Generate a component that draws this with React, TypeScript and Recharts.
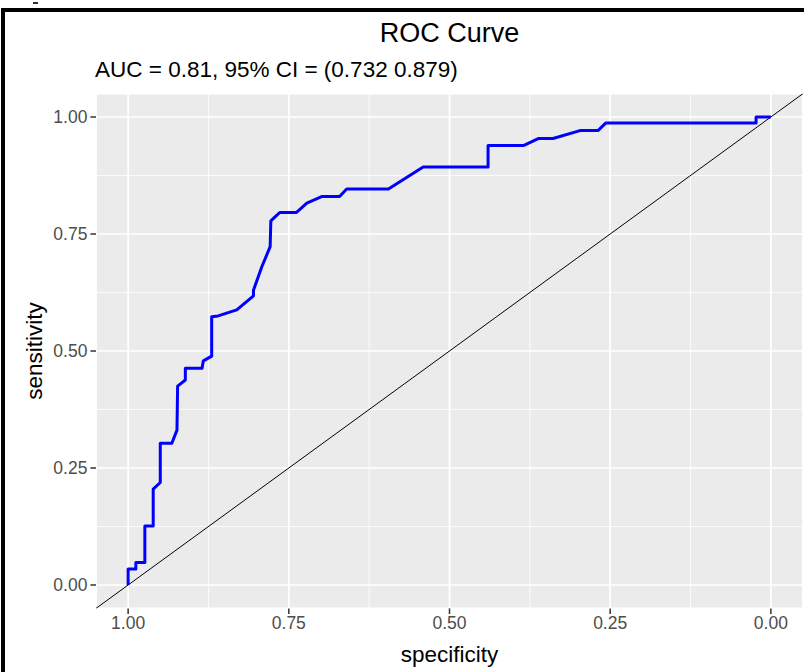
import React from "react";
import { LineChart, Line, XAxis, YAxis, CartesianGrid, ReferenceLine } from "recharts";

const specificity = [
  1.0, 1.0, 0.988, 0.988, 0.974, 0.974, 0.961, 0.961, 0.95, 0.95, 0.932, 0.924, 0.923, 0.911,
  0.911, 0.885, 0.883, 0.87, 0.87, 0.86, 0.831, 0.805, 0.805, 0.792, 0.779, 0.778, 0.771, 0.764,
  0.738, 0.722, 0.699, 0.671, 0.66, 0.595, 0.541, 0.44, 0.44, 0.385, 0.362, 0.339, 0.297, 0.269,
  0.257, 0.023, 0.023, 0.0,
];
const sensitivity = [
  0.0, 0.034, 0.034, 0.048, 0.048, 0.126, 0.126, 0.205, 0.219, 0.303, 0.303, 0.331, 0.425, 0.438,
  0.463, 0.463, 0.479, 0.489, 0.573, 0.575, 0.588, 0.618, 0.63, 0.68, 0.723, 0.778, 0.787, 0.796,
  0.796, 0.816, 0.83, 0.83, 0.846, 0.846, 0.893, 0.893, 0.939, 0.939, 0.954, 0.954, 0.971, 0.971,
  0.987, 0.987, 1.0, 1.0,
];
const majorTicks = [0, 0.25, 0.5, 0.75, 1];
const minorTicks = [0.125, 0.375, 0.625, 0.875];
const chanceLine = [
  { x: 1.05, y: -0.05 },
  { x: -0.05, y: 1.05 },
];
const titleText = "ROC Curve";
const subtitleText = "AUC = 0.81, 95% CI = (0.732 0.879)";
const xTitle = "specificity";
const yTitle = "sensitivity";

const rows = specificity.map((s, i) => ({ spec: s, sens: sensitivity[i] }));

const FONT = '"Liberation Sans", Arial, sans-serif';
const tickStyle = { fill: "#4D4D4D", fontSize: 17.5, fontFamily: FONT };

export default function App() {
  return (
    <div style={{ position: "absolute", left: 0, top: 0, width: 804, height: 672, background: "#fff", overflow: "hidden", fontFamily: FONT }}>
      <LineChart
        width={804}
        height={672}
        data={rows}
        margin={{ top: 93.6, right: 1, left: 0, bottom: 0 }}
      >
        <CartesianGrid stroke="#FFFFFF" strokeWidth={0.8} fill="#EBEBEB" xAxisId="minorX" yAxisId="minorY" />
        <CartesianGrid stroke="#FFFFFF" strokeWidth={1.7} xAxisId="main" yAxisId="main" />
        <XAxis
          xAxisId="main"
          dataKey="spec"
          type="number"
          domain={[-0.05, 1.05]}
          reversed
          allowDataOverflow
          ticks={majorTicks}
          tickFormatter={(v: number) => v.toFixed(2)}
          tick={tickStyle}
          tickSize={5.6}
          tickMargin={3}
          tickLine={{ stroke: "#333333", strokeWidth: 1.5 }}
          axisLine={false}
          height={63.6}
          interval={0}
        />
        <XAxis
          xAxisId="minorX"
          dataKey="spec"
          type="number"
          domain={[-0.05, 1.05]}
          reversed
          allowDataOverflow
          ticks={minorTicks}
          hide
          interval={0}
        />
        <YAxis
          yAxisId="main"
          dataKey="sens"
          type="number"
          domain={[-0.05, 1.05]}
          allowDataOverflow
          ticks={majorTicks}
          tickFormatter={(v: number) => v.toFixed(2)}
          tick={tickStyle}
          tickSize={5.6}
          tickMargin={3}
          tickLine={{ stroke: "#333333", strokeWidth: 1.5 }}
          axisLine={false}
          width={96}
          interval={0}
        />
        <YAxis
          yAxisId="minorY"
          dataKey="sens"
          type="number"
          domain={[-0.05, 1.05]}
          allowDataOverflow
          ticks={minorTicks}
          hide
          interval={0}
        />
        <ReferenceLine
          xAxisId="main"
          yAxisId="main"
          segment={chanceLine}
          stroke="#000000"
          strokeWidth={1}
          ifOverflow="hidden"
        />
        <Line
          xAxisId="main"
          yAxisId="main"
          dataKey="sens"
          type="linear"
          stroke="#0000FF"
          strokeWidth={3}
          dot={false}
          isAnimationActive={false}
          strokeLinejoin="round"
        />
      </LineChart>

      <div style={{ position: "absolute", left: 0, top: 33, width: 899, transform: "translateY(-50%)", textAlign: "center", fontSize: 27, color: "#000", whiteSpace: "nowrap" }}>
        {titleText}
      </div>
      <div style={{ position: "absolute", left: 95, top: 70, transform: "translateY(-50%)", fontSize: 22.5, color: "#000", whiteSpace: "nowrap" }}>
        {subtitleText}
      </div>
      <div style={{ position: "absolute", left: 0, top: 655, width: 899, transform: "translateY(-50%)", textAlign: "center", fontSize: 22.5, color: "#000", whiteSpace: "nowrap" }}>
        {xTitle}
      </div>
      <div style={{ position: "absolute", left: 35, top: 351, transform: "translate(-50%, -50%) rotate(-90deg)", fontSize: 22.5, color: "#000", whiteSpace: "nowrap" }}>
        {yTitle}
      </div>

      <div style={{ position: "absolute", left: 1, top: 8, width: 4, height: 664, background: "#000" }} />
      <div style={{ position: "absolute", left: 1, top: 8, width: 803, height: 4, background: "#000" }} />
      <div style={{ position: "absolute", left: 33, top: 2, width: 5, height: 2, background: "#333" }} />
    </div>
  );
}
